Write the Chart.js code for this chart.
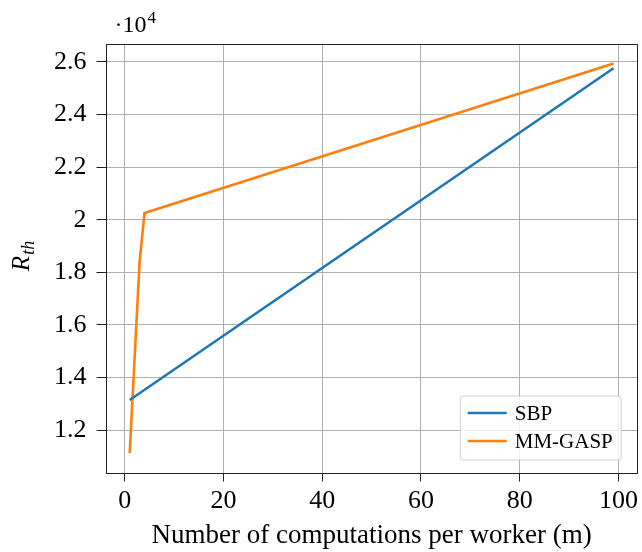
<!DOCTYPE html>
<html>
<head>
<meta charset="utf-8">
<script src="https://cdn.jsdelivr.net/npm/chart.js@4/dist/chart.umd.min.js"></script>
<style>
html,body{margin:0;padding:0;background:#fff;}
#wrap{width:642px;height:552px;position:relative;}
</style>
</head>
<body>
<div id="wrap"><canvas id="c" width="642" height="552"></canvas></div>
<script>
// ---- data ----
const seriesNames = ["SBP", "MM-GASP"];
const sbpX = [1, 99];
const sbpY = [13150, 25755];
const mmX = [1, 3, 4, 99];
const mmY = [11135, 18370, 20255, 25935];
const xTicks = [0, 20, 40, 60, 80, 100];
const yTicks = [12000, 14000, 16000, 18000, 20000, 22000, 24000, 26000];
const xLabel = "Number of computations per worker (m)";

const toPts = (xs, ys) => xs.map((x, i) => ({x: x, y: ys[i]}));

Chart.defaults.font.family = "'Liberation Serif', 'DejaVu Serif', serif";
Chart.defaults.color = '#000';

const frameAndDecor = {
  id: 'frameAndDecor',
  afterDraw(chart) {
    const ctx = chart.ctx;
    const a = chart.chartArea;
    ctx.save();
    // frame
    ctx.strokeStyle = '#222';
    ctx.lineWidth = 1;
    ctx.strokeRect(Math.round(a.left) + 0.5, Math.round(a.top) + 0.5,
                   Math.round(a.right - a.left) - 1, Math.round(a.bottom - a.top));
    // legend
    const bw = 161, bh = 64;
    const bx = a.right - 17 - bw, by = a.bottom - 13 - bh;
    ctx.fillStyle = 'rgba(255,255,255,0.8)';
    ctx.strokeStyle = '#d0d0d0';
    ctx.lineWidth = 1;
    ctx.beginPath();
    if (ctx.roundRect) ctx.roundRect(bx + 0.5, by + 0.5, bw, bh, 3); else ctx.rect(bx + 0.5, by + 0.5, bw, bh);
    ctx.fill(); ctx.stroke();
    chart.data.datasets.forEach((ds, i) => {
      const yy = by + 17.5 + i * 28;
      ctx.strokeStyle = ds.borderColor;
      ctx.lineWidth = 2.5;
      ctx.beginPath();
      ctx.moveTo(bx + 8, yy); ctx.lineTo(bx + 47, yy);
      ctx.stroke();
      ctx.fillStyle = '#000';
      ctx.font = "21px 'Liberation Serif', serif";
      ctx.textBaseline = 'middle';
      ctx.textAlign = 'left';
      ctx.fillText(ds.label, bx + 55, yy + 1);
    });
    // y title R_th (rotated)
    ctx.save();
    ctx.translate(29, 256);
    ctx.rotate(-Math.PI / 2);
    ctx.fillStyle = '#000';
    ctx.textBaseline = 'alphabetic';
    const fR = "italic 25px 'Liberation Serif', serif";
    const fS = "italic 18px 'Liberation Serif', serif";
    ctx.font = fR; const wR = ctx.measureText('R').width;
    ctx.font = fS; const wS = ctx.measureText('th').width;
    const tot = wR + 1 + wS;
    ctx.textAlign = 'left';
    ctx.font = fR; ctx.fillText('R', -tot / 2, 0);
    ctx.font = fS; ctx.fillText('th', -tot / 2 + wR + 1, 5);
    ctx.restore();
    // multiplier
    ctx.fillStyle = '#000';
    ctx.textAlign = 'left';
    ctx.textBaseline = 'alphabetic';
    ctx.font = "24px 'Liberation Serif', serif";
    ctx.fillText('\u00B710', a.left + 9, 32);
    const w10 = ctx.measureText('\u00B710').width;
    ctx.font = "17px 'Liberation Serif', serif";
    ctx.fillText('4', a.left + 9 + w10 + 1, 23);
    ctx.restore();
  }
};

new Chart(document.getElementById('c'), {
  type: 'line',
  data: {
    datasets: [
      {label: seriesNames[0], data: toPts(sbpX, sbpY), borderColor: '#1f77b4', backgroundColor: '#1f77b4',
       borderWidth: 2.6, pointRadius: 0, tension: 0, fill: false},
      {label: seriesNames[1], data: toPts(mmX, mmY), borderColor: '#ff7f0e', backgroundColor: '#ff7f0e',
       borderWidth: 2.6, pointRadius: 0, tension: 0, fill: false}
    ]
  },
  options: {
    responsive: false,
    animation: false,
    layout: {padding: {top: 44, right: 1, left: 0, bottom: 0}},
    plugins: {legend: {display: false}, tooltip: {enabled: false}},
    scales: {
      x: {
        type: 'linear', min: -3.9, max: 103.9,
        afterBuildTicks: s => { s.ticks = xTicks.map(v => ({value: v})); },
        afterFit: s => { s.height = 79.5; },
        grid: {color: '#b0b0b0', lineWidth: 1, tickColor: '#222', tickLength: 9, tickWidth: 1},
        border: {display: false},
        ticks: {font: {size: 26}, padding: 4, maxRotation: 0, color: '#000',
                callback: v => String(v)},
        title: {display: true, text: xLabel, font: {size: 27}, padding: {top: 0, bottom: 0}, color: '#000'}
      },
      y: {
        type: 'linear', min: 10395, max: 26675,
        afterBuildTicks: s => { s.ticks = yTicks.map(v => ({value: v})); },
        afterFit: s => { s.width = 105.5; },
        grid: {color: '#b0b0b0', lineWidth: 1, tickColor: '#222', tickLength: 9, tickWidth: 1},
        border: {display: false},
        ticks: {font: {size: 26}, padding: 10, color: '#000',
                callback: v => String(parseFloat((v / 1e4).toFixed(1)))}
      }
    }
  },
  plugins: [frameAndDecor]
});
</script>
</body>
</html>
